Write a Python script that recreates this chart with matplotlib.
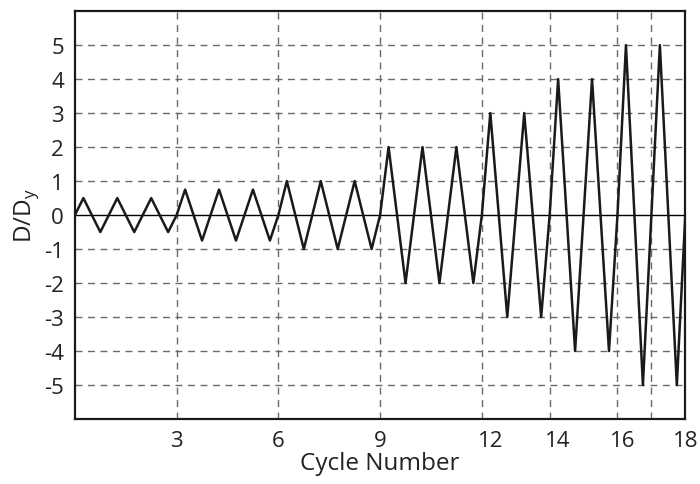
import matplotlib.pyplot as plt
import numpy as np

plt.rcParams['font.family'] = ['Open Sans', 'DejaVu Sans']
plt.rcParams['axes.unicode_minus'] = False

# amplitude (D/Dy) of each loading cycle, 18 cycles in total
amps = [0.5, 0.5, 0.5,
        0.75, 0.75, 0.75,
        1, 1, 1,
        2, 2, 2,
        3, 3,
        4, 4,
        5, 5]

# tick labels sit a little right of their grid lines in the original
xtick_pos = [3, 6, 9, 12.25, 14.25, 16.15, 18]
xtick_lab = ['3', '6', '9', '12', '14', '16', '18']
vgrid = [3, 6, 9, 12, 14, 16, 17]
yticks = [-5, -4, -3, -2, -1, 0, 1, 2, 3, 4, 5]

# triangle history: 0 -> +A -> -A -> 0 for every cycle
xs, ys = [], []
for i, a in enumerate(amps):
    xs += [i, i + 0.25, i + 0.75]
    ys += [0, a, -a]
xs.append(len(amps))
ys.append(0)

fig = plt.figure(figsize=(7, 4.85), dpi=100)
ax = fig.add_axes([0.107, 0.134, 0.872, 0.841])

gridkw = dict(color='#6a6a6a', lw=1.0, ls=(0, (5, 4)), zorder=1)
for v in vgrid:
    ax.axvline(v, **gridkw)
for v in yticks:
    if v != 0:
        ax.axhline(v, **gridkw)
ax.axhline(0, color='black', lw=1.0, zorder=2)

ax.plot(xs, ys, color='#1a1a1a', lw=1.8, zorder=3)

ax.set_xlim(0, 18)
ax.set_ylim(-6, 6)
ax.set_xticks(xtick_pos)
ax.set_xticklabels(xtick_lab)
ax.set_yticks(yticks)
ax.tick_params(length=0, labelsize=16, colors='#222222')
ax.tick_params(axis='x', pad=8)
ax.tick_params(axis='y', pad=8)
for s in ax.spines.values():
    s.set_linewidth(1.6)
    s.set_color('#1a1a1a')

ax.set_xlabel('Cycle Number', fontsize=17.5, color='#222222', labelpad=0)
ax.set_ylabel(r'D/D$_\mathregular{y}$', fontsize=17.5, color='#222222', labelpad=2)

fig.savefig('out.png', dpi=100)
